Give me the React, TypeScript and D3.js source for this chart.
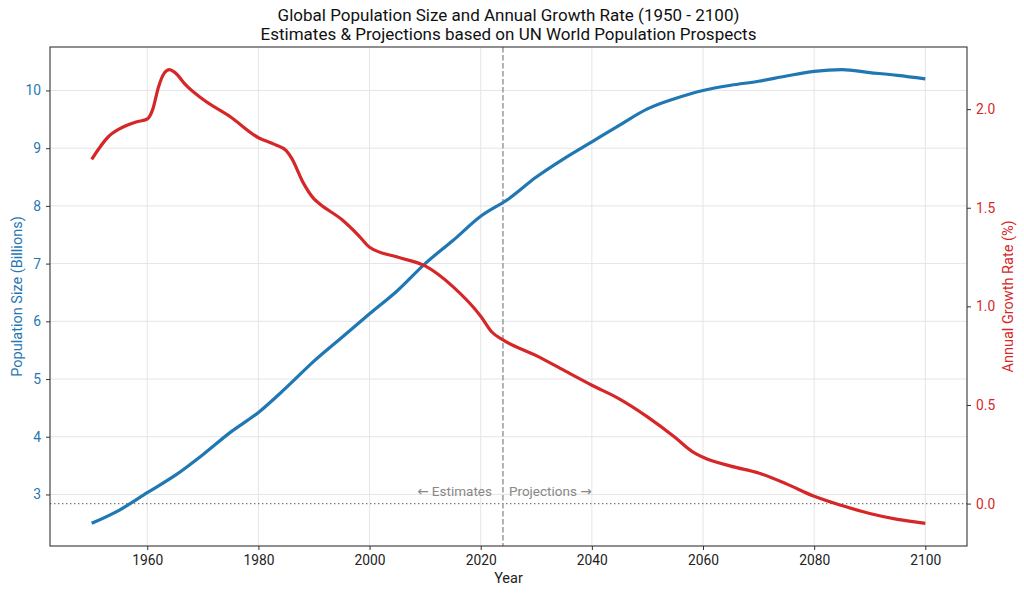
import { useEffect, useRef } from 'react'
import * as d3 from 'd3'

// population (billions), one value per year in popYears
const popYears = [1950, 1955, 1960, 1965, 1970, 1975, 1980, 1985, 1990, 1995, 2000, 2005, 2010, 2015, 2020, 2025, 2030, 2035, 2040, 2045, 2050, 2055, 2060, 2065, 2070, 2075, 2080, 2085, 2090, 2095, 2100]
const popValues = [2.5, 2.73, 3.03, 3.33, 3.69, 4.08, 4.42, 4.85, 5.31, 5.72, 6.13, 6.53, 7.0, 7.4, 7.82, 8.12, 8.5, 8.82, 9.11, 9.4, 9.68, 9.86, 10.0, 10.09, 10.16, 10.25, 10.33, 10.36, 10.31, 10.26, 10.2]

// annual growth rate (%)
const growthYears = [1950, 1953, 1955, 1958, 1960, 1961, 1962, 1963, 1964, 1965, 1967, 1970, 1975, 1980, 1983, 1985, 1986, 1988, 1990, 1991, 1995, 1998, 2000, 2005, 2010, 2015, 2020, 2022, 2024, 2030, 2035, 2040, 2045, 2050, 2055, 2058, 2060, 2065, 2070, 2075, 2080, 2085, 2090, 2095, 2100]
const growthValues = [1.745, 1.86, 1.9, 1.935, 1.95, 2.0, 2.11, 2.18, 2.2, 2.185, 2.12, 2.05, 1.96, 1.855, 1.82, 1.79, 1.75, 1.63, 1.545, 1.52, 1.44, 1.36, 1.3, 1.25, 1.205, 1.1, 0.95, 0.87, 0.83, 0.75, 0.675, 0.6, 0.53, 0.44, 0.335, 0.265, 0.235, 0.19, 0.155, 0.1, 0.037, -0.01, -0.05, -0.08, -0.1]

const xTicks = [1960, 1980, 2000, 2020, 2040, 2060, 2080, 2100]
const popTicks = [3, 4, 5, 6, 7, 8, 9, 10]
const growthTicks = [0, 0.5, 1.0, 1.5, 2.0]
const splitYear = 2024

const BLUE = '#1f77b4'
const RED = '#d62728'
const FONT = 'Roboto, "DejaVu Sans", sans-serif'

export default function App() {
  const ref = useRef<SVGSVGElement>(null)

  useEffect(() => {
    if (!ref.current) return
    const svg = d3.select(ref.current)
    svg.selectAll('*').remove()

    const width = 1024
    const height = 595
    const margin = { top: 47, right: 57, bottom: 49, left: 50 }
    const innerW = width - margin.left - margin.right
    const innerH = height - margin.top - margin.bottom

    // matplotlib style 5% padding on each side
    const pad = (ext: [number, number]) => {
      const r = ext[1] - ext[0]
      return [ext[0] - r * 0.05, ext[1] + r * 0.05]
    }

    const x = d3.scaleLinear().domain(pad([1950, 2100] as [number, number])).range([0, innerW])
    const yPop = d3.scaleLinear().domain(pad(d3.extent(popValues) as [number, number])).range([innerH, 0])
    const yGrowth = d3.scaleLinear().domain(pad(d3.extent(growthValues) as [number, number])).range([innerH, 0])

    const g = svg.append('g').attr('transform', `translate(${margin.left},${margin.top})`)

    // grid
    g.append('g').selectAll('line').data(xTicks).enter().append('line')
      .attr('x1', d => x(d)).attr('x2', d => x(d))
      .attr('y1', 0).attr('y2', innerH)
      .attr('stroke', '#e5e5e5').attr('stroke-width', 1)
    g.append('g').selectAll('line').data(popTicks).enter().append('line')
      .attr('x1', 0).attr('x2', innerW)
      .attr('y1', d => yPop(d)).attr('y2', d => yPop(d))
      .attr('stroke', '#e5e5e5').attr('stroke-width', 1)

    // zero growth line
    g.append('line')
      .attr('x1', 0).attr('x2', innerW)
      .attr('y1', yGrowth(0)).attr('y2', yGrowth(0))
      .attr('stroke', '#777').attr('stroke-width', 1.4)
      .attr('stroke-dasharray', '1.4,2.6')

    // estimates / projections split
    g.append('line')
      .attr('x1', x(splitYear)).attr('x2', x(splitYear))
      .attr('y1', 0).attr('y2', innerH)
      .attr('stroke', '#999').attr('stroke-width', 1.5)
      .attr('stroke-dasharray', '5.5,2.5')

    g.append('text')
      .attr('x', x(splitYear) - 11).attr('y', yGrowth(0) - 8)
      .attr('text-anchor', 'end')
      .attr('fill', '#888').attr('font-size', 13.5).attr('font-family', FONT)
      .text('← Estimates')
    g.append('text')
      .attr('x', x(splitYear) + 6).attr('y', yGrowth(0) - 8)
      .attr('text-anchor', 'start')
      .attr('fill', '#888').attr('font-size', 13.5).attr('font-family', FONT)
      .text('Projections →')

    // lines
    const popLine = d3.line<number>()
      .x((_, i) => x(popYears[i]))
      .y(d => yPop(d))
      .curve(d3.curveMonotoneX)
    const growthLine = d3.line<number>()
      .x((_, i) => x(growthYears[i]))
      .y(d => yGrowth(d))
      .curve(d3.curveMonotoneX)

    g.append('path').datum(popValues)
      .attr('d', popLine)
      .attr('fill', 'none').attr('stroke', BLUE).attr('stroke-width', 3.2)
    g.append('path').datum(growthValues)
      .attr('d', growthLine)
      .attr('fill', 'none').attr('stroke', RED).attr('stroke-width', 3.2)

    // frame
    g.append('rect')
      .attr('x', 0).attr('y', 0).attr('width', innerW).attr('height', innerH)
      .attr('fill', 'none').attr('stroke', '#333').attr('stroke-width', 1.1)

    // axes
    const styleAxis = (sel: any, color: string) => {
      sel.select('.domain').remove()
      sel.selectAll('.tick line').attr('stroke', '#333').attr('stroke-width', 1)
      sel.selectAll('.tick text').attr('fill', color).attr('font-size', 13.8).attr('font-family', FONT)
    }

    const xAxis = g.append('g').attr('transform', `translate(0,${innerH})`)
      .call(d3.axisBottom(x).tickValues(xTicks).tickFormat(d3.format('d')).tickSize(4).tickPadding(5))
    styleAxis(xAxis, '#222')

    const leftAxis = g.append('g')
      .call(d3.axisLeft(yPop).tickValues(popTicks).tickFormat(d3.format('d')).tickSize(4).tickPadding(5))
    styleAxis(leftAxis, BLUE)

    const rightAxis = g.append('g').attr('transform', `translate(${innerW},0)`)
      .call(d3.axisRight(yGrowth).tickValues(growthTicks).tickFormat(d3.format('.1f')).tickSize(4).tickPadding(5))
    styleAxis(rightAxis, RED)

    // axis titles
    g.append('text')
      .attr('x', innerW / 2).attr('y', innerH + 37)
      .attr('text-anchor', 'middle')
      .attr('fill', '#222').attr('font-size', 14.5).attr('font-family', FONT)
      .text('Year')
    g.append('text')
      .attr('transform', `translate(${-28},${innerH / 2}) rotate(-90)`)
      .attr('text-anchor', 'middle')
      .attr('fill', BLUE).attr('font-size', 14.5).attr('font-family', FONT)
      .text('Population Size (Billions)')
    g.append('text')
      .attr('transform', `translate(${innerW + 46},${innerH / 2}) rotate(-90)`)
      .attr('text-anchor', 'middle')
      .attr('fill', RED).attr('font-size', 14.5).attr('font-family', FONT)
      .text('Annual Growth Rate (%)')

    // title
    svg.append('text')
      .attr('x', margin.left + innerW / 2).attr('y', 21)
      .attr('text-anchor', 'middle')
      .attr('fill', '#111').attr('font-size', 17).attr('font-family', FONT)
      .text('Global Population Size and Annual Growth Rate (1950 - 2100)')
    svg.append('text')
      .attr('x', margin.left + innerW / 2).attr('y', 40)
      .attr('text-anchor', 'middle')
      .attr('fill', '#111').attr('font-size', 17).attr('font-family', FONT)
      .text('Estimates & Projections based on UN World Population Prospects')
  }, [])

  return (
    <svg ref={ref} width={1024} height={595}
      style={{ position: 'absolute', left: 0, top: 0, background: '#fff' }} />
  )
}
